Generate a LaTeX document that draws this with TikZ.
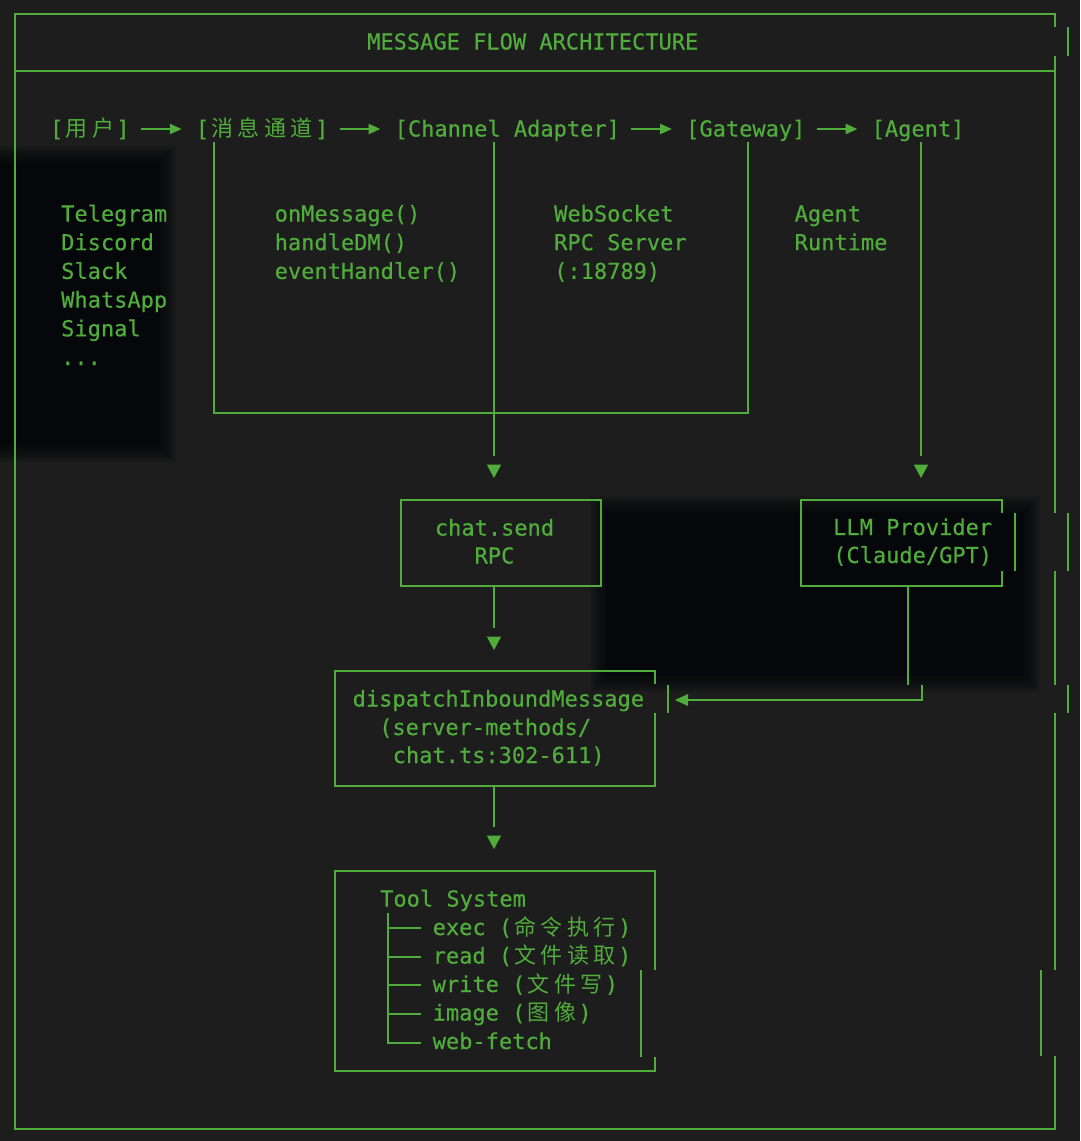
\documentclass[tikz,border=0pt]{standalone}
\usepackage{fontspec}
\setmonofont{DejaVu Sans Mono}[FakeBold=0.35]
\newfontfamily\cjkfont{Noto Sans CJK SC}
\usetikzlibrary{arrows.meta}
\definecolor{bg}{HTML}{1D1D1D}
\definecolor{term}{HTML}{50AC3B}
\definecolor{darkzone}{HTML}{05070A}
\newcommand\cj[1]{\makebox[26.5pt]{\cjkfont\fontsize{22}{28}\selectfont #1}}
\newcommand\softrect[4]{%
  \fill[darkzone] (#1,#2) rectangle (#3,#4);
  \foreach \i in {1,...,8}{\fill[darkzone,opacity=0.16] ({#1-2*\i},{#2-2*\i}) rectangle ({#3+2*\i},{#4+2*\i});}%
}
\newcommand\downtip[2]{\fill[term] ({#1-7.25},#2) -- ({#1+7.25},#2) -- (#1,{#2+13.5}) -- cycle;}
\begin{document}
\begin{tikzpicture}[x=1pt,y=-1pt,
  txt/.style={anchor=base west, inner sep=0pt, text=term, font=\ttfamily\fontsize{22}{28}\selectfont},
  ctxt/.style={txt, anchor=base},
  toprow/.style={txt, text height=18pt, text depth=3pt},
  wire/.style={draw=term, line width=2pt},
  flowarrow/.style={draw=term, line width=2.5pt, -{Triangle[length=12pt,width=10pt]}, shorten <=11pt, shorten >=14pt},
]
% background and bounding box
\fill[bg] (0,0) rectangle (1080,1141);
\useasboundingbox (0,0) rectangle (1080,1141);

% dark shadow regions
\softrect{-20}{162}{160}{446}
\softrect{606}{512}{1024}{676}

% outer frame
\draw[wire] (1054.5,27) -- (1054.5,14) -- (14.5,14) -- (14.5,1128.5) -- (1054.5,1128.5) -- (1054.5,1056);
\draw[wire] (1068,27) -- (1068,56);
\draw[wire] (1054.5,56) -- (1054.5,513);
\draw[wire] (1068,513) -- (1068,570.5);
\draw[wire] (1054.5,570.5) -- (1054.5,685);
\draw[wire] (1068,685) -- (1068,713);
\draw[wire] (1054.5,713) -- (1054.5,970);
\draw[wire] (1041,970) -- (1041,1056);
\draw[wire] (14.5,71) -- (1054.5,71);

% title
\node[txt] (title) at (367,49.5) {MESSAGE FLOW ARCHITECTURE};

% top row
\node[toprow] (user) at (50,136.5) {[\cj{用}\cj{户}]};
\node[toprow] (chan) at (195.75,136.5) {[\cj{消}\cj{息}\cj{通}\cj{道}]};
\node[toprow] (adapter) at (394.5,136.5) {[Channel Adapter]};
\node[toprow] (gateway) at (686,136.5) {[Gateway]};
\node[toprow] (agent) at (871.5,136.5) {[Agent]};
\draw[flowarrow] (user.east) -- (chan.west);
\draw[flowarrow] (chan.east) -- (adapter.west);
\draw[flowarrow] (adapter.east) -- (gateway.west);
\draw[flowarrow] (gateway.east) -- (agent.west);

% platforms
\node[txt] (p1) at (61,221.5) {Telegram};
\node[txt] (p2) at (61,250.2) {Discord};
\node[txt] (p3) at (61,278.9) {Slack};
\node[txt] (p4) at (61,307.6) {WhatsApp};
\node[txt] (p5) at (61,336.3) {Signal};
\node[txt] (p6) at (61,365) {...};

% handlers
\node[txt] (h1) at (274.5,221.5) {onMessage()};
\node[txt] (h2) at (274.5,250.2) {handleDM()};
\node[txt] (h3) at (274.5,278.9) {eventHandler()};

% gateway info
\node[txt] (g1) at (554,221.5) {WebSocket};
\node[txt] (g2) at (554,250.2) {RPC Server};
\node[txt] (g3) at (554,278.9) {(:18789)};

% agent info
\node[txt] (a1) at (794.5,221.5) {Agent};
\node[txt] (a2) at (794.5,250.2) {Runtime};

% drop lines
\coordinate (chanFoot) at (214,142);
\coordinate (gateFoot) at (748,142);
\coordinate (adaptFoot) at (494,142);
\coordinate (agentFoot) at (921,142);
\coordinate (adaptEnd) at (494,456);
\coordinate (agentEnd) at (921,456);
\draw[wire] (chanFoot) -- (214,413) -- (748,413) -- (gateFoot);
\draw[wire] (adaptFoot) -- (adaptEnd);
\draw[wire] (agentFoot) -- (agentEnd);
\downtip{494}{464.5}
\downtip{921}{464.5}

% chat.send box
\node[draw=term, line width=2pt, minimum width=200.5pt, minimum height=85.5pt, inner sep=0pt] (chatbox) at (500.75,542.75) {};
\node[ctxt] (cs1) at (494.5,535.5) {chat.send};
\node[ctxt] (cs2) at (494.5,563.5) {RPC};

% LLM box
\draw[wire] (1002,513) -- (1002,499.5) -- (801,499.5) -- (801,586) -- (1002,586) -- (1002,570.5);
\draw[wire] (1014.5,513) -- (1014.5,570.5);
\node[txt] (llm1) at (833,535) {LLM Provider};
\node[txt] (llm2) at (833,563) {(Claude/GPT)};

% chat.send -> dispatch
\coordinate (csEnd) at (494,628);
\draw[wire] (chatbox.south -| csEnd) -- (csEnd);
\downtip{494}{636.5}

% dispatch box
\draw[wire] (654.5,684) -- (654.5,671) -- (334.5,671) -- (334.5,785.5) -- (654.5,785.5) -- (654.5,713);
\draw[wire] (668,685) -- (668,713);
\node[txt] (d1) at (352.5,706.5) {dispatchInboundMessage};
\node[txt] (d2) at (379,735) {(server-methods/};
\node[txt] (d3) at (392.5,763) {chat.ts:302-611)};

% LLM -> dispatch
\coordinate (llmFoot) at (908,586);
\coordinate (llmJog) at (908,684.5);
\coordinate (retTop) at (921.7,684.5);
\coordinate (retCorner) at (921.7,700);
\coordinate (retEnd) at (688,700);
\draw[wire] (llmFoot) -- (llmJog);
\draw[wire] (retTop) -- (retCorner) -- (retEnd);
\fill[term] (688,694) -- (688,706) -- (675,700) -- cycle;

% dispatch -> tool
\coordinate (dEnd) at (494,827);
\draw[wire] (494,785.5) -- (dEnd);
\downtip{494}{835.5}

% tool box
\draw[wire] (654.5,970) -- (654.5,871) -- (334.5,871) -- (334.5,1071) -- (654.5,1071) -- (654.5,1057);
\draw[wire] (641,970) -- (641,1057);
\node[txt] (t0) at (380,906.5) {Tool System};
\draw[wire] (388,913) -- (388,1043) -- (421,1043);
\foreach \yy in {928,956.5,985,1014}{\draw[wire] (388,\yy) -- (421,\yy);}
\node[txt] (t1) at (432.5,935) {exec (\cj{命}\cj{令}\cj{执}\cj{行})};
\node[txt] (t2) at (432.5,963.5) {read (\cj{文}\cj{件}\cj{读}\cj{取})};
\node[txt] (t3) at (432.5,992) {write (\cj{文}\cj{件}\cj{写})};
\node[txt] (t4) at (432.5,1020.5) {image (\cj{图}\cj{像})};
\node[txt] (t5) at (432.5,1049) {web-fetch};
\end{tikzpicture}
\end{document}
